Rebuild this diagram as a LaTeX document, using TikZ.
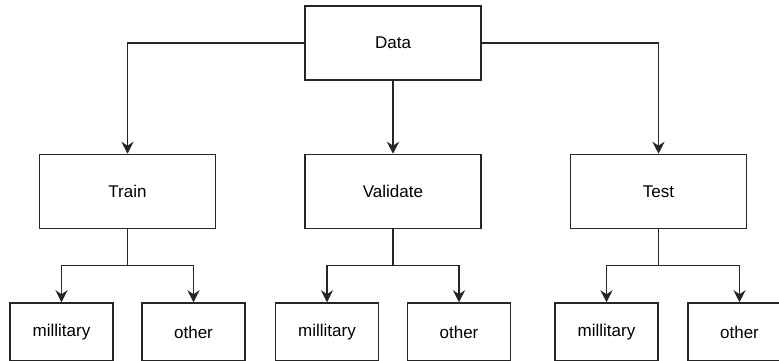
\documentclass[tikz,border=0pt]{standalone}
\usepackage{fontspec}
\setmainfont{Liberation Sans}
\usetikzlibrary{arrows.meta, positioning}
\tikzset{
  grp/.style ={rectangle, draw=black!85, line width=1.5pt,
               minimum width=176pt, minimum height=74pt, align=center,
               font=\fontsize{17}{20}\selectfont},
  leaf/.style={rectangle, draw=black!85, line width=1.5pt,
               minimum width=103pt, minimum height=58pt, align=center,
               font=\fontsize{17}{20}\selectfont},
  arr/.style ={-{Stealth[length=12pt, width=12pt, inset=4pt]}, line width=1.5pt, draw=black!85}
}
\begin{document}
\begin{tikzpicture}[x=1pt, y=1pt, node distance=73pt and 88pt]
    \useasboundingbox (0,0) rectangle (779,-360);
    \node[grp] (data) at (393,-43) {Data};
    \node[grp, below=of data] (val) {Validate};
    \node[grp, left=of val] (train) {Train};
    \node[grp, right=of val] (test) {Test};
    % leaves
    \node[leaf, below=of train, xshift=-66pt] (trmil) {millitary};
    \node[leaf, below=of train, xshift=66pt] (troth) {other};
    \node[leaf, below=of val, xshift=-66pt] (vamil) {millitary};
    \node[leaf, below=of val, xshift=66pt] (vaoth) {other};
    \node[leaf, below=of test, xshift=-52pt] (temil) {millitary};
    \node[leaf, below=of test, xshift=81pt] (teoth) {other};
    % junctions
    \coordinate[below=36pt of train.south] (trj);
    \coordinate[below=36pt of val.south] (vaj);
    \coordinate[below=36pt of test.south] (tej);
    \draw[arr] (data.west) -| (train.north);
    \draw[arr] (data) -- (val);
    \draw[arr] (data.east) -| (test.north);
    \draw[arr] (train) -- (trj) -| (trmil);
    \draw[arr] (trj) -| (troth);
    \draw[arr] (val) -- (vaj) -| (vamil);
    \draw[arr] (vaj) -| (vaoth);
    \draw[arr] (test) -- (tej) -| (temil);
    \draw[arr] (tej) -| (teoth);
  \end{tikzpicture}
\end{document}
